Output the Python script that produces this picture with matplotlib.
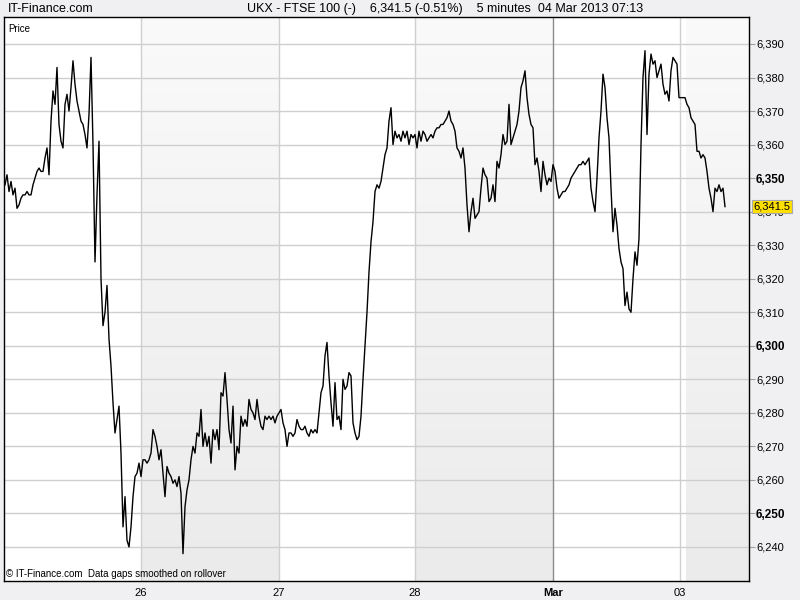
import numpy as np
import matplotlib
matplotlib.use("Agg")
import matplotlib.pyplot as plt
import matplotlib.transforms as mtransforms

plt.rcParams['font.family'] = ['Liberation Sans', 'DejaVu Sans']

# ---- data (5-minute closes, sampled uniformly) ----
prices = [
    6348, 6351, 6346, 6349, 6345, 6347, 6341, 6342, 6344, 6345,
    6345, 6346, 6345, 6345, 6348, 6350, 6352, 6353, 6352, 6352,
    6356, 6359, 6351, 6367, 6376, 6372, 6383, 6366, 6361, 6359,
    6372, 6375, 6370, 6377, 6385, 6378, 6373, 6370, 6367, 6366,
    6363, 6359, 6369, 6386, 6360, 6325, 6345, 6361, 6320, 6306,
    6310, 6318, 6302, 6294, 6283, 6274, 6278, 6282, 6268, 6246,
    6255, 6242, 6240, 6246, 6255, 6261, 6262, 6265, 6261, 6266,
    6266, 6265, 6266, 6268, 6275, 6273, 6270, 6266, 6269, 6262,
    6255, 6264, 6262, 6261, 6259, 6260, 6258, 6261, 6256, 6238,
    6252, 6257, 6260, 6266, 6270, 6268, 6274, 6273, 6281, 6270,
    6274, 6270, 6273, 6265, 6275, 6272, 6275, 6269, 6286, 6285,
    6292, 6284, 6275, 6271, 6282, 6263, 6270, 6268, 6279, 6276,
    6278, 6276, 6284, 6281, 6280, 6278, 6284, 6279, 6276, 6275,
    6279, 6278, 6279, 6278, 6279, 6277, 6279, 6280, 6281, 6277,
    6275, 6270, 6274, 6274, 6273, 6274, 6278, 6276, 6275, 6275,
    6276, 6274, 6273, 6275, 6274, 6275, 6274, 6280, 6286, 6288,
    6297, 6301, 6291, 6283, 6276, 6289, 6278, 6279, 6275, 6290,
    6287, 6288, 6292, 6291, 6277, 6274, 6272, 6273, 6279, 6290,
    6300, 6310, 6322, 6331, 6337, 6346, 6348, 6347, 6349, 6353,
    6357, 6359, 6367, 6371, 6360, 6364, 6362, 6363, 6361, 6364,
    6362, 6364, 6360, 6363, 6362, 6363, 6359, 6364, 6361, 6364,
    6363, 6361, 6362, 6363, 6362, 6364, 6365, 6365, 6366, 6366,
    6367, 6368, 6370, 6367, 6366, 6364, 6359, 6358, 6356, 6359,
    6353, 6342, 6334, 6340, 6344, 6338, 6339, 6340, 6347, 6353,
    6351, 6350, 6343, 6344, 6348, 6343, 6355, 6353, 6357, 6363,
    6360, 6361, 6372, 6360, 6362, 6364, 6366, 6370, 6377, 6379,
    6382, 6374, 6369, 6366, 6365, 6354, 6356, 6352, 6346, 6355,
    6351, 6348, 6350, 6349, 6354, 6352, 6347, 6344, 6345, 6346,
    6346, 6347, 6348, 6350, 6351, 6352, 6353, 6354, 6354, 6355,
    6354, 6355, 6356, 6347, 6343, 6340, 6350, 6362, 6370, 6381,
    6377, 6368, 6362, 6347, 6334, 6341, 6336, 6329, 6325, 6323,
    6312, 6316, 6311, 6310, 6320, 6328, 6324, 6332, 6360, 6380,
    6388, 6363, 6381, 6387, 6384, 6385, 6380, 6382, 6384, 6378,
    6375, 6376, 6373, 6382, 6386, 6385, 6384, 6374, 6374, 6374,
    6374, 6372, 6371, 6368, 6367, 6366, 6358, 6358, 6356, 6357,
    6356, 6352, 6347, 6344, 6340, 6347, 6346, 6348, 6346, 6347,
    6341.5,
]
last_price = 6341.5
day_labels = ["26", "27", "28", "Mar", "03"]
day_pos = [68, 137, 205, 274, 337.5]
y_ticks = list(range(6240, 6400, 10))
bold_ticks = [6250, 6300, 6350]
header_left = "IT-Finance.com"
header_center = "UKX - FTSE 100 (-)    6,341.5 (-0.51%)    5 minutes  04 Mar 2013 07:13"

x = np.arange(len(prices))

fig = plt.figure(figsize=(8, 6), dpi=100)
fig.patch.set_facecolor('#f0f0f2')
ax = fig.add_axes([4/800, 1-581/600, 745/800, 564/600])
ax.set_facecolor('white')

xmin, xmax = -0.5, 372
ymin, ymax = 6229.85, 6398.05
ax.set_xlim(xmin, xmax)
ax.set_ylim(ymin, ymax)

# shaded day bands with vertical gradient
grad = np.linspace(0, 1, 256).reshape(-1, 1)
from matplotlib.colors import LinearSegmentedColormap
cmap = LinearSegmentedColormap.from_list('g', ['#fafafa', '#ebebeb'])
for (a, b) in [(68.5, 137), (205, 274), (340.5, xmax)]:
    ax.imshow(grad, extent=(a, b, ymin, ymax), origin='upper', cmap=cmap,
              aspect='auto', zorder=0, interpolation='bilinear')
ax.set_xlim(xmin, xmax)
ax.set_ylim(ymin, ymax)

for t in y_ticks:
    ax.axhline(t, color='#cfcfcf', lw=1.0, zorder=1)
for p, lab in zip(day_pos, day_labels):
    ax.axvline(p, color='#8c8c8c' if lab == 'Mar' else '#cfcfcf', lw=1.0, zorder=1)

ax.plot(x, prices, color='black', lw=1.0, zorder=3)

for s in ax.spines.values():
    s.set_color('black')
    s.set_linewidth(1.0)

ax.yaxis.tick_right()
ax.set_yticks(y_ticks)
ax.set_yticklabels([f"{t:,}" for t in y_ticks])
for lbl, t in zip(ax.get_yticklabels(), y_ticks):
    lbl.set_fontsize(8)
    if t in bold_ticks:
        lbl.set_fontweight('bold')
        lbl.set_fontsize(8.5)
ax.tick_params(axis='y', direction='out', length=4, width=0.8, color='#a0a0a0', pad=1)

ax.set_xticks(day_pos)
ax.set_xticklabels(day_labels)
for lbl in ax.get_xticklabels():
    lbl.set_fontsize(8)
    if lbl.get_text() == 'Mar':
        lbl.set_fontweight('bold')
ax.tick_params(axis='x', length=0, pad=5)

# last price tag
trans = mtransforms.blended_transform_factory(ax.transAxes, ax.transData)
ax.text(1.006, last_price, f"{last_price:,.1f}", transform=trans, fontsize=8,
        va='center', ha='left', zorder=5,
        bbox=dict(boxstyle='square,pad=0.15', facecolor='#ffe000', edgecolor='#a8a8a8', lw=0.8))

ax.text(0.006, 0.988, "Price", transform=ax.transAxes, fontsize=7, va='top', ha='left')
ax.text(0.003, 0.003, "© IT-Finance.com  Data gaps smoothed on rollover", transform=ax.transAxes,
        fontsize=7, va='bottom', ha='left')

fig.text(8/800, 1-9/600, header_left, fontsize=9, va='center', ha='left')
fig.text(445/800, 1-9/600, header_center, fontsize=9, va='center', ha='center')

fig.savefig('out.png', dpi=100, facecolor=fig.get_facecolor())
